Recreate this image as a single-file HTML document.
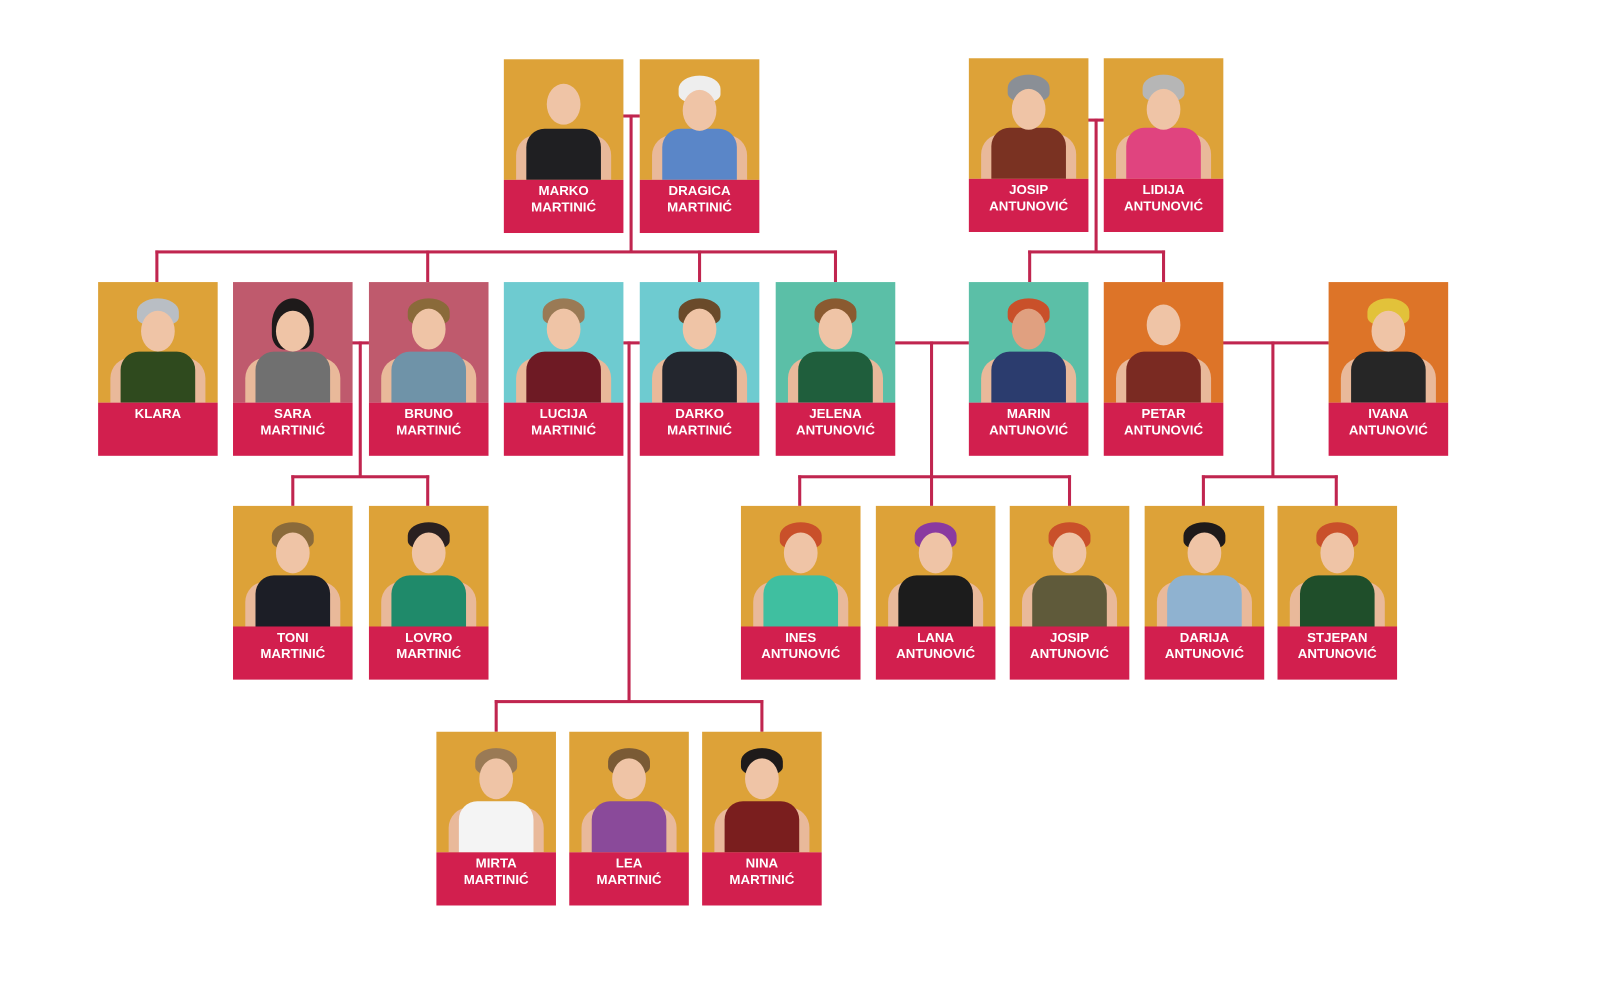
<!DOCTYPE html>
<html><head><meta charset="utf-8"><style>
html,body{margin:0;padding:0;background:#fff;width:1600px;height:988px;overflow:hidden}
#w{position:absolute;left:0;top:0;width:1566px;height:967px;transform:scale(1.022);transform-origin:0 0}
.c{position:absolute;width:117px;height:170px}
.p{position:absolute;left:0;top:0;width:117px;height:118px;background:var(--bg);overflow:hidden}
.l{position:absolute;left:0;top:118px;width:117px;height:52px;background:#d21f4e;color:#fff;font:bold 13px/16px "Liberation Sans",sans-serif;text-align:center;padding-top:3px;box-sizing:border-box}
.a{position:absolute;left:12px;bottom:0;width:93px;height:44px;background:#e9b99a;border-radius:20px 20px 0 0}
.b{position:absolute;left:22px;bottom:0;width:73px;height:50px;background:var(--sh);border-radius:18px 18px 0 0}
.h{position:absolute;left:42px;top:24px;width:33px;height:40px;background:#efc4a6;border-radius:50%}
.hr{position:absolute;left:38px;top:16px;width:41px;height:26px;background:var(--hr);border-radius:50% 50% 30% 30%}
.ln{position:absolute;background:#c0254f}
</style></head><body><div id="w">
<div class="ln" style="left:609px;top:112px;width:17px;height:3px"></div>
<div class="ln" style="left:616px;top:112px;width:3px;height:135px"></div>
<div class="ln" style="left:152px;top:245px;width:667px;height:3px"></div>
<div class="ln" style="left:152px;top:245px;width:3px;height:31px"></div>
<div class="ln" style="left:417px;top:245px;width:3px;height:31px"></div>
<div class="ln" style="left:683px;top:245px;width:3px;height:31px"></div>
<div class="ln" style="left:816px;top:245px;width:3px;height:31px"></div>
<div class="ln" style="left:1064px;top:116px;width:16px;height:3px"></div>
<div class="ln" style="left:1071px;top:116px;width:3px;height:131px"></div>
<div class="ln" style="left:1006px;top:245px;width:134px;height:3px"></div>
<div class="ln" style="left:1006px;top:245px;width:3px;height:31px"></div>
<div class="ln" style="left:1137px;top:245px;width:3px;height:31px"></div>
<div class="ln" style="left:344px;top:334px;width:17px;height:3px"></div>
<div class="ln" style="left:351px;top:334px;width:3px;height:133px"></div>
<div class="ln" style="left:285px;top:465px;width:135px;height:3px"></div>
<div class="ln" style="left:285px;top:465px;width:3px;height:30px"></div>
<div class="ln" style="left:417px;top:465px;width:3px;height:30px"></div>
<div class="ln" style="left:610px;top:334px;width:16px;height:3px"></div>
<div class="ln" style="left:614px;top:334px;width:3px;height:353px"></div>
<div class="ln" style="left:484px;top:685px;width:263px;height:3px"></div>
<div class="ln" style="left:484px;top:685px;width:3px;height:31px"></div>
<div class="ln" style="left:744px;top:685px;width:3px;height:31px"></div>
<div class="ln" style="left:875px;top:334px;width:73px;height:3px"></div>
<div class="ln" style="left:910px;top:334px;width:3px;height:161px"></div>
<div class="ln" style="left:781px;top:465px;width:267px;height:3px"></div>
<div class="ln" style="left:781px;top:465px;width:3px;height:30px"></div>
<div class="ln" style="left:1045px;top:465px;width:3px;height:30px"></div>
<div class="ln" style="left:1196px;top:334px;width:104px;height:3px"></div>
<div class="ln" style="left:1244px;top:334px;width:3px;height:133px"></div>
<div class="ln" style="left:1176px;top:465px;width:133px;height:3px"></div>
<div class="ln" style="left:1176px;top:465px;width:3px;height:30px"></div>
<div class="ln" style="left:1306px;top:465px;width:3px;height:30px"></div>

<div class="c" style="left:493px;top:58px;--bg:#dda238;--sh:#1f1f22;--hr:#b9c6cf"><div class="p"><i class="a"></i><i class="b"></i><i class="h"></i></div><div class="l">MARKO<br>MARTINIĆ</div></div>
<div class="c" style="left:626px;top:58px;--bg:#dda238;--sh:#5a86c8;--hr:#eeeeee"><div class="p"><i class="a"></i><i class="b"></i><i class="hr"></i><i class="h" style="top:30px"></i></div><div class="l">DRAGICA<br>MARTINIĆ</div></div>
<div class="c" style="left:948px;top:57px;--bg:#dda238;--sh:#7a3222;--hr:#8a8f96"><div class="p"><i class="a"></i><i class="b"></i><i class="hr"></i><i class="h" style="top:30px"></i></div><div class="l">JOSIP<br>ANTUNOVIĆ</div></div>
<div class="c" style="left:1080px;top:57px;--bg:#dda238;--sh:#e0447f;--hr:#b6b6b6"><div class="p"><i class="a"></i><i class="b"></i><i class="hr"></i><i class="h" style="top:30px"></i></div><div class="l">LIDIJA<br>ANTUNOVIĆ</div></div>

<div class="c" style="left:96px;top:276px;--bg:#dda238;--sh:#2f4a1e;--hr:#b9bec4"><div class="p"><i class="a"></i><i class="b"></i><i class="hr"></i><i class="h" style="top:28px"></i></div><div class="l">KLARA</div></div>
<div class="c" style="left:228px;top:276px;--bg:#bf5a6d;--sh:#707070;--hr:#1e1a1a"><div class="p"><i class="a"></i><i class="b"></i><i class="hr" style="height:50px"></i><i class="h" style="top:28px"></i></div><div class="l">SARA<br>MARTINIĆ</div></div>
<div class="c" style="left:361px;top:276px;--bg:#bf5a6d;--sh:#6f93a8;--hr:#8a6a3a"><div class="p"><i class="a"></i><i class="b"></i><i class="hr"></i><i class="h" style="top:26px"></i></div><div class="l">BRUNO<br>MARTINIĆ</div></div>
<div class="c" style="left:493px;top:276px;--bg:#6ecbd0;--sh:#6e1a24;--hr:#9a7a55"><div class="p"><i class="a"></i><i class="b"></i><i class="hr"></i><i class="h" style="top:26px"></i></div><div class="l">LUCIJA<br>MARTINIĆ</div></div>
<div class="c" style="left:626px;top:276px;--bg:#6ecbd0;--sh:#23262e;--hr:#6a4a2a"><div class="p"><i class="a"></i><i class="b"></i><i class="hr"></i><i class="h" style="top:26px"></i></div><div class="l">DARKO<br>MARTINIĆ</div></div>
<div class="c" style="left:759px;top:276px;--bg:#5bbfa7;--sh:#1f5e3c;--hr:#8a5a30"><div class="p"><i class="a"></i><i class="b"></i><i class="hr"></i><i class="h" style="top:26px"></i></div><div class="l">JELENA<br>ANTUNOVIĆ</div></div>
<div class="c" style="left:948px;top:276px;--bg:#5bbfa7;--sh:#2b3c6e;--hr:#c9502a"><div class="p"><i class="a"></i><i class="b"></i><i class="hr"></i><i class="h" style="top:26px;background:#e0a080"></i></div><div class="l">MARIN<br>ANTUNOVIĆ</div></div>
<div class="c" style="left:1080px;top:276px;--bg:#dd7428;--sh:#7a2a22;--hr:#dd7428"><div class="p"><i class="a"></i><i class="b"></i><i class="h" style="top:22px"></i></div><div class="l">PETAR<br>ANTUNOVIĆ</div></div>
<div class="c" style="left:1300px;top:276px;--bg:#dd7428;--sh:#262626;--hr:#e2c23a"><div class="p"><i class="a"></i><i class="b"></i><i class="hr"></i><i class="h" style="top:28px"></i></div><div class="l">IVANA<br>ANTUNOVIĆ</div></div>

<div class="c" style="left:228px;top:495px;--bg:#dda238;--sh:#1c1e26;--hr:#8a6a3a"><div class="p"><i class="a"></i><i class="b"></i><i class="hr"></i><i class="h" style="top:26px"></i></div><div class="l">TONI<br>MARTINIĆ</div></div>
<div class="c" style="left:361px;top:495px;--bg:#dda238;--sh:#1f8a6a;--hr:#2a2020"><div class="p"><i class="a"></i><i class="b"></i><i class="hr"></i><i class="h" style="top:26px"></i></div><div class="l">LOVRO<br>MARTINIĆ</div></div>
<div class="c" style="left:725px;top:495px;--bg:#dda238;--sh:#3fbfa0;--hr:#c9502a"><div class="p"><i class="a"></i><i class="b"></i><i class="hr"></i><i class="h" style="top:26px"></i></div><div class="l">INES<br>ANTUNOVIĆ</div></div>
<div class="c" style="left:857px;top:495px;--bg:#dda238;--sh:#1c1c1c;--hr:#8a3aa0"><div class="p"><i class="a"></i><i class="b"></i><i class="hr"></i><i class="h" style="top:26px"></i></div><div class="l">LANA<br>ANTUNOVIĆ</div></div>
<div class="c" style="left:988px;top:495px;--bg:#dda238;--sh:#5f5a3a;--hr:#c9502a"><div class="p"><i class="a"></i><i class="b"></i><i class="hr"></i><i class="h" style="top:26px"></i></div><div class="l">JOSIP<br>ANTUNOVIĆ</div></div>
<div class="c" style="left:1120px;top:495px;--bg:#dda238;--sh:#8fb2d0;--hr:#1e1a1a"><div class="p"><i class="a"></i><i class="b"></i><i class="hr"></i><i class="h" style="top:26px"></i></div><div class="l">DARIJA<br>ANTUNOVIĆ</div></div>
<div class="c" style="left:1250px;top:495px;--bg:#dda238;--sh:#1f4e2a;--hr:#c9502a"><div class="p"><i class="a"></i><i class="b"></i><i class="hr"></i><i class="h" style="top:26px"></i></div><div class="l">STJEPAN<br>ANTUNOVIĆ</div></div>

<div class="c" style="left:427px;top:716px;--bg:#dda238;--sh:#f4f4f4;--hr:#9a7a55"><div class="p"><i class="a"></i><i class="b"></i><i class="hr"></i><i class="h" style="top:26px"></i></div><div class="l">MIRTA<br>MARTINIĆ</div></div>
<div class="c" style="left:557px;top:716px;--bg:#dda238;--sh:#8a4a9a;--hr:#7a5a35"><div class="p"><i class="a"></i><i class="b"></i><i class="hr"></i><i class="h" style="top:26px"></i></div><div class="l">LEA<br>MARTINIĆ</div></div>
<div class="c" style="left:687px;top:716px;--bg:#dda238;--sh:#7a1e1e;--hr:#1e1a1a"><div class="p"><i class="a"></i><i class="b"></i><i class="hr"></i><i class="h" style="top:26px"></i></div><div class="l">NINA<br>MARTINIĆ</div></div>
</div></body></html>
